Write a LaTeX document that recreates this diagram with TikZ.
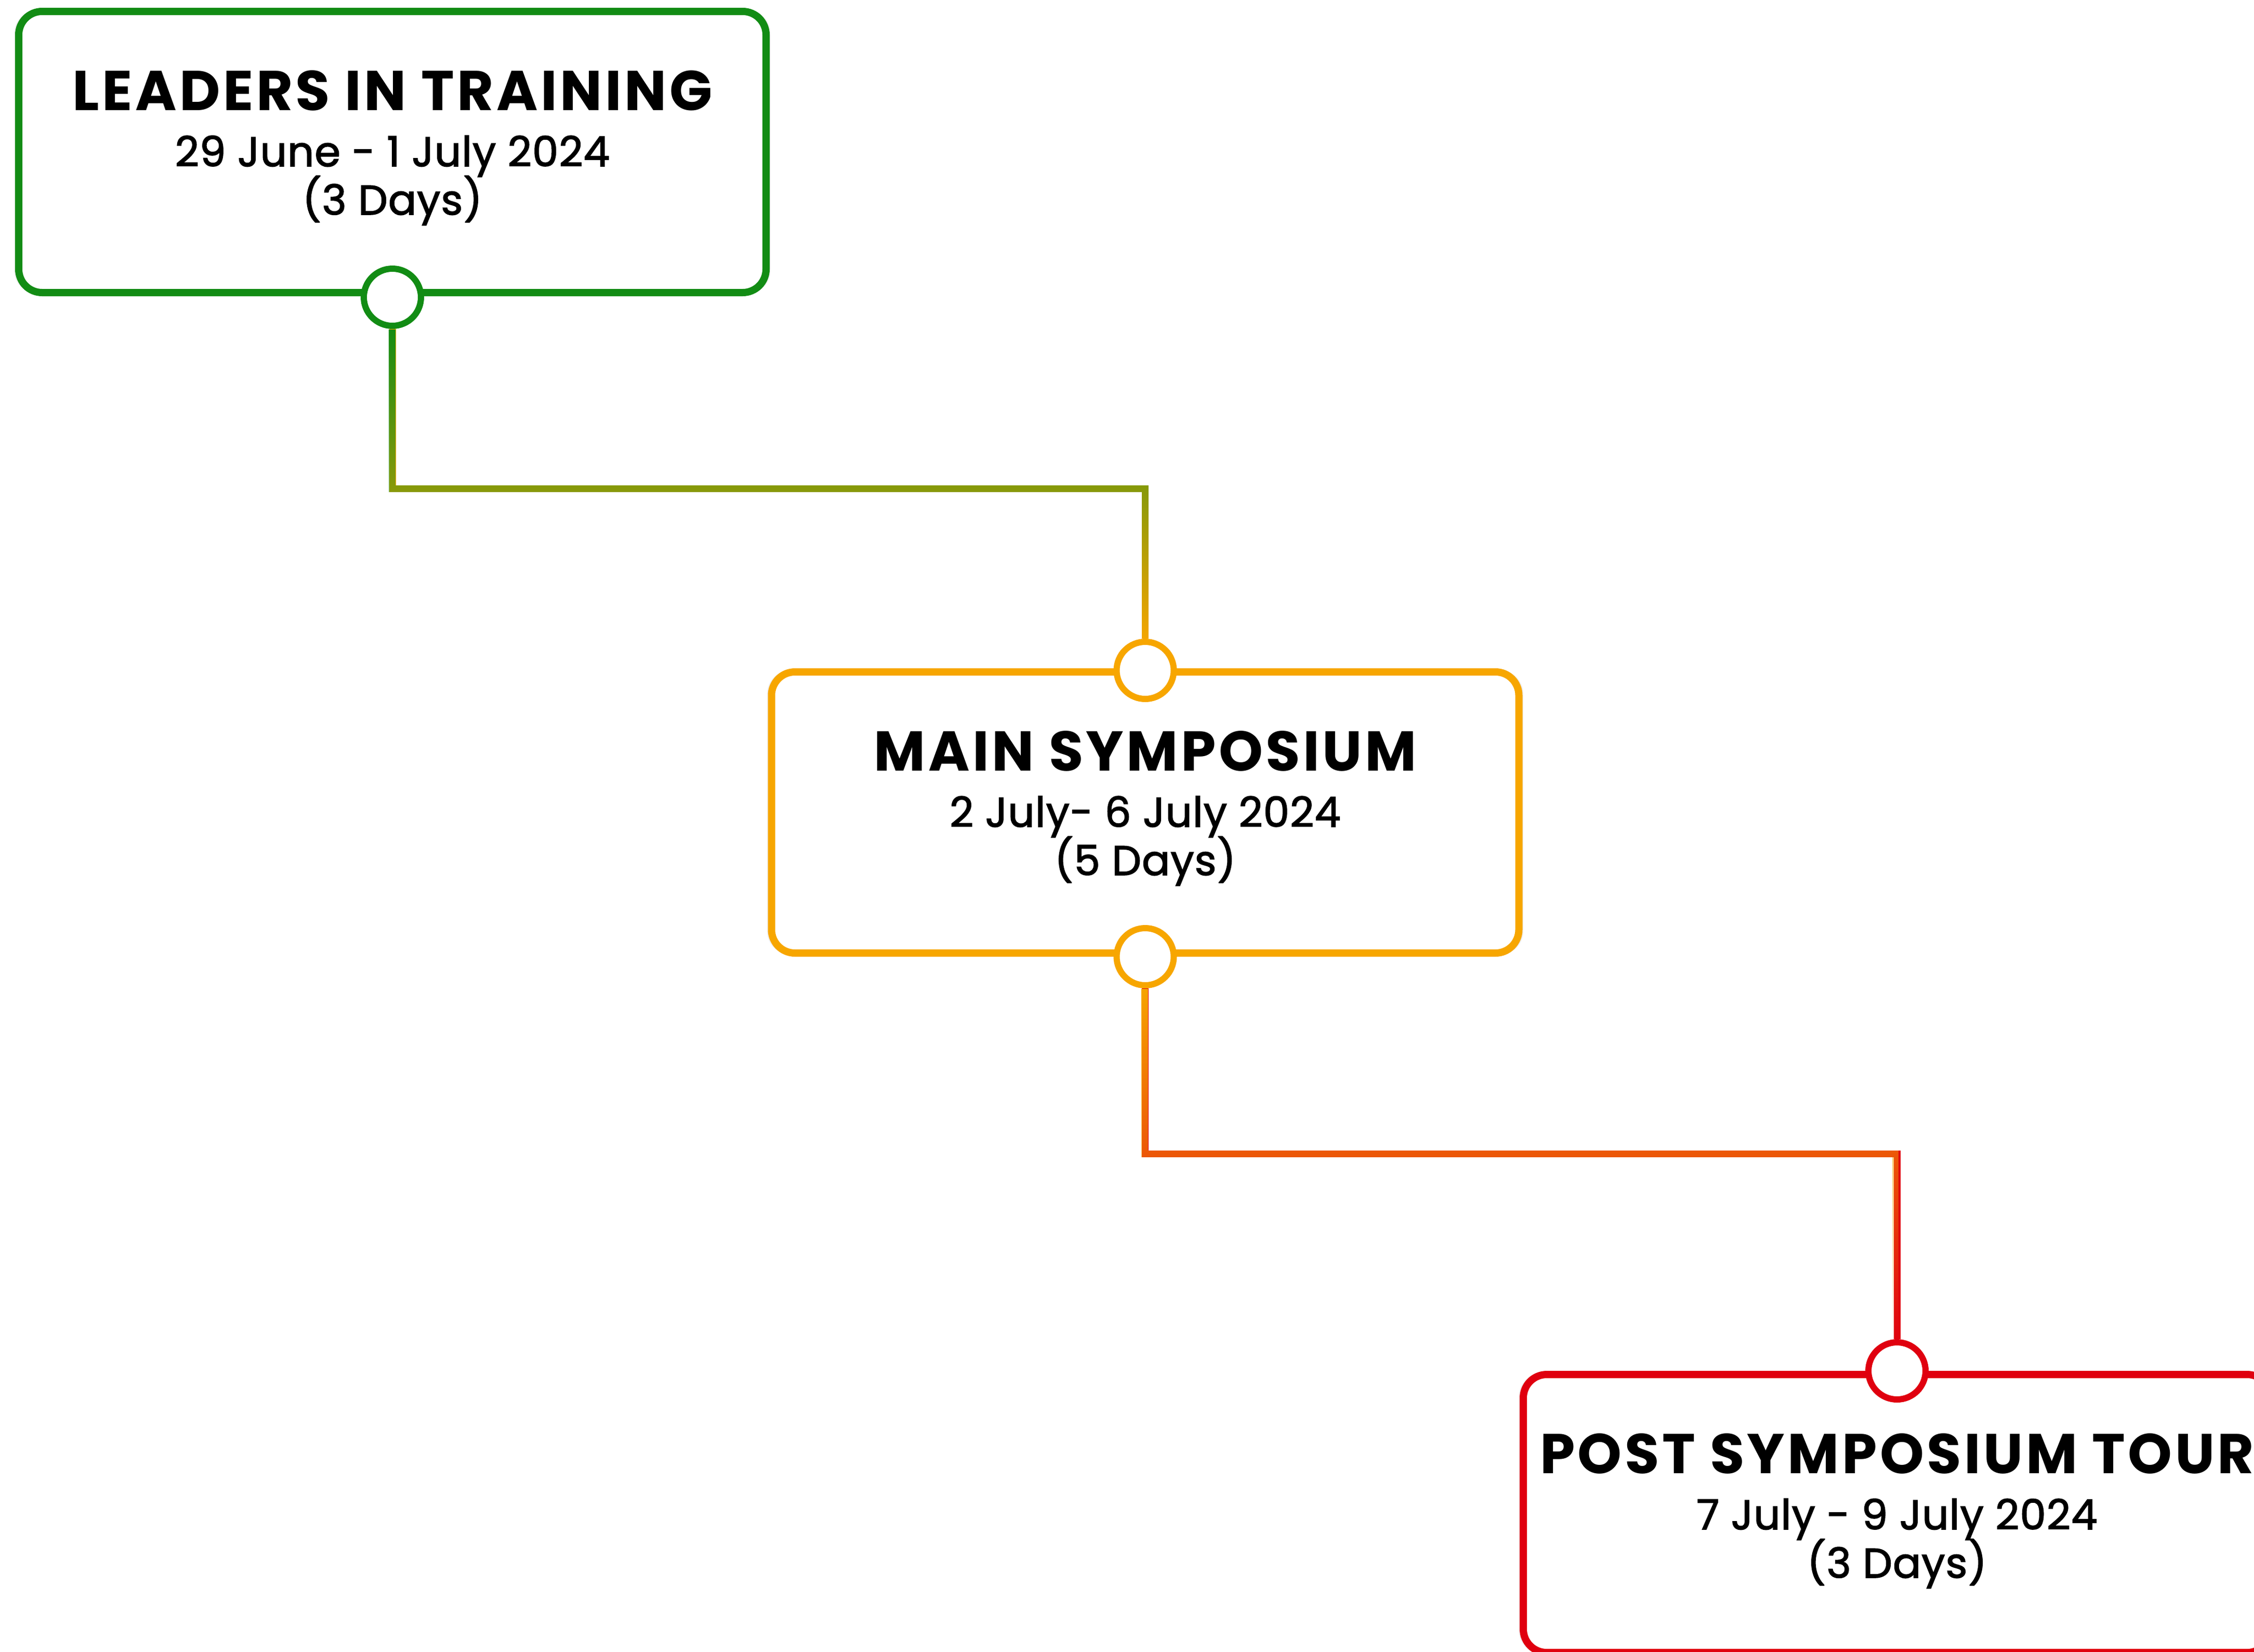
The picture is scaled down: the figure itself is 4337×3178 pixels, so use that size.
\documentclass[tikz,border=0pt]{standalone}
\usepackage{fontspec}
\setmainfont{Poppins}
\newfontfamily\titlefont[LetterSpace=5]{Poppins}
\newfontfamily\datefont[FakeBold=2,LetterSpace=1.5]{Poppins}
\usetikzlibrary{fadings,shadows,calc}
\definecolor{cgreen}{RGB}{18,140,20}
\definecolor{corange}{RGB}{247,166,0}
\definecolor{cred}{RGB}{224,0,15}
\tikzset{
  stagebox/.style={draw=#1, line width=14pt, rounded corners=45pt, fill=white,
    minimum width=1438pt, minimum height=541pt, inner sep=0pt,
    general shadow={fill=black, opacity=0.06, shadow scale=1.012}},
  knob/.style={circle, draw=#1, line width=12pt, fill=white, minimum size=110pt, inner sep=0pt},
  titletext/.style={anchor=base, inner sep=0pt, font=\titlefont\fontsize{108}{120}\selectfont\bfseries},
  datetext/.style={anchor=base, inner sep=0pt, font=\datefont\fontsize{80}{96}\selectfont},
  link/.style={line width=13pt},
}
\begin{document}
\begin{tikzpicture}[x=1pt,y=-1pt]
\useasboundingbox (0,0) rectangle (4337,3178);
\fill[white] (0,0) rectangle (4337,3178);

% boxes
\node[stagebox=cgreen]  (b1) at (755,292.5) {};
\node[stagebox=corange] (b2) at (2203.5,1563.5) {};
\node[stagebox=cred, minimum height=535pt] (b3) at (3650,2912.5) {};

% texts
\node[titletext] (t1) at ($(b1.north)+(0,197)$) {LEADERS IN TRAINING};
\node[datetext]  (d1) at ($(b1.north)+(0,305)$) {29 June - 1 July 2024};
\node[datetext]  (n1) at ($(b1.north)+(0,398)$) {(3 Days)};

\node[titletext] (t2) at ($(b2.north)+(0,197)$) {MAIN SYMPOSIUM};
\node[datetext]  (d2) at ($(b2.north)+(0,305)$) {2 July- 6 July 2024};
\node[datetext]  (n2) at ($(b2.north)+(0,398)$) {(5 Days)};

\node[titletext] (t3) at ($(b3.north)+(0,197)$) {POST SYMPOSIUM TOUR};
\node[datetext]  (d3) at ($(b3.north)+(0,305)$) {7 July - 9 July 2024};
\node[datetext]  (n3) at ($(b3.north)+(0,398)$) {(3 Days)};

% knobs
\node[knob=cgreen]  (k1) at ($(b1.south)+(0,2)$) {};
\node[knob=corange] (k2) at ($(b2.north)+(0,4)$) {};
\node[knob=corange] (k3) at (b2.south) {};
\node[knob=cred]    (k4) at (b3.north) {};

% bend levels
\coordinate (h1) at (0,940);
\coordinate (h2) at (0,2220);

% connectors (colour gradient: base colour + faded overlay)
\draw[link, draw=corange] (k1.south) -- (k1.south |- h1) -- (k2.north |- h1) -- (k2.north);
\draw[link, draw=cgreen, path fading=south, fit fading] (k1.south) -- (k1.south |- h1) -- (k2.north |- h1) -- (k2.north);

\draw[link, draw=cred] (k3.south) -- (k3.south |- h2) -- (k4.north |- h2) -- (k4.north);
\draw[link, draw=corange, path fading=south, fit fading] (k3.south) -- (k3.south |- h2) -- (k4.north |- h2) -- (k4.north);
\end{tikzpicture}
\end{document}
